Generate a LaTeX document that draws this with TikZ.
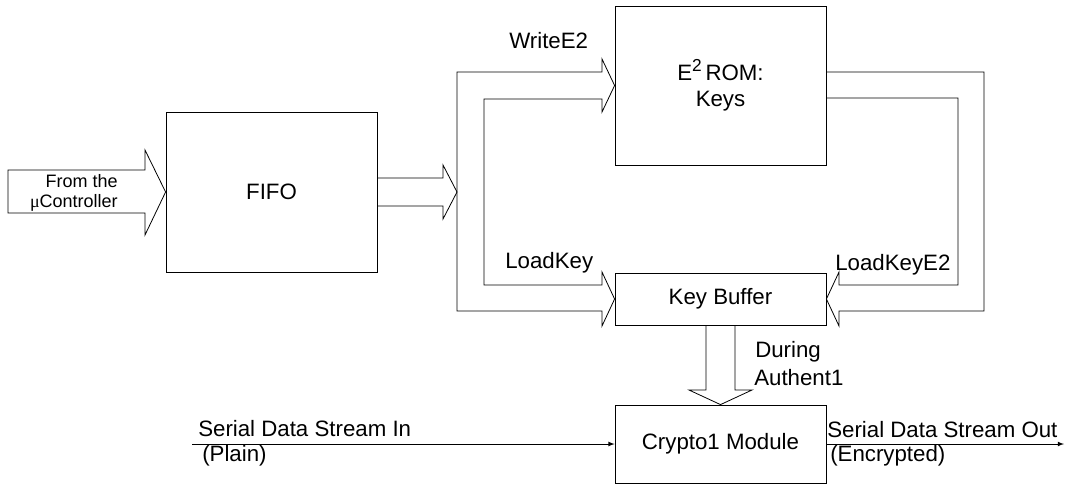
\documentclass[tikz,border=0pt]{standalone}
\usepackage{fontspec}
\setmainfont{Liberation Sans}
\newfontfamily\symbfont{Liberation Serif}
\usetikzlibrary{arrows}

\begin{document}
\begin{tikzpicture}[x=0.75pt, y=-0.75pt, font=\fontsize{16.7}{19.5}\selectfont]
	\tikzset{block/.style={shape = rectangle, draw, line width = 0.6pt, inner sep = 0pt}}
	\tikzset{lbl/.style={inner sep = 0pt, anchor = base west}}
	\tikzset{bus/.style={draw, line width = 0.6pt, line join = miter}}
	\useasboundingbox (0,0) rectangle (1066,486);
	%blocks
	\node[block, minimum width = 158.25pt, minimum height = 120pt] (fifo) at (271.5,192) {FIFO};
	\node[block, minimum width = 158.25pt, minimum height = 119.25pt, align = center] (eerom) at (720.5,85.5)
		{E\raisebox{0.42em}{\fontsize{13}{13}\selectfont 2}\,ROM:\\Keys};
	\node[block, minimum width = 158.25pt, minimum height = 39pt] (keybuf) at (720.5,299) {Key Buffer};
	\node[block, minimum width = 158.25pt, minimum height = 58.5pt] (crypto) at (720.5,444) {Crypto1 Module};
	%fat arrows
	\path[bus] (8,170) -- (145,170) -- (145,150) -- (fifo.west) -- (145,235) -- (145,213) -- (8,213) -- cycle;
	\path[bus] (377,178) -- (443,178) -- (443,165) -- (457,192) -- (443,219) -- (443,206) -- (377,206);
	\path[bus] (602,72) -- (602,59) -- (eerom.west) -- (602,112) -- (602,99) -- (484,99) -- (484,285)
		-- (602,285) -- (602,272) -- (keybuf.west) -- (602,326) -- (602,311) -- (457,311) -- (457,72) -- cycle;
	\path[bus] (826,72) -- (984,72) -- (984,311) -- (839,311) -- (839,326) -- (keybuf.east)
		-- (839,272) -- (839,285) -- (958,285) -- (958,98) -- (826,98);
	\path[bus] (706,325) -- (706,390) -- (689,390) -- (crypto.north) -- (752,390) -- (735,390) -- (735,325);
	%serial lines
	\coordinate (datain) at (192,444);
	\coordinate (dataout) at (1064,444);
	\draw[-latex, line width = 0.6pt] (datain) -- (crypto.west);
	\draw[-latex, line width = 0.6pt] (crypto.east) -- (dataout);
	%labels
	\node[inner sep = 0pt, anchor = east, align = right, font = \fontsize{13.5}{15}\selectfont] (micro) at (118,193)
		{From the\\{\symbfont μ}Controller};
	\node[lbl] (writee) at (509,48) {WriteE2};
	\node[lbl] (loadkey) at (505,268) {LoadKey};
	\node[lbl] (loadkeye) at (835,270) {LoadKeyE2};
	\node[lbl] (during) at (755,357) {During};
	\node[lbl] (authent) at (754,385) {Authent1};
	\node[lbl] (serin) at (198,436) {Serial Data Stream In};
	\node[lbl] (plain) at (202,461) {(Plain)};
	\node[lbl] (serout) at (827,437) {Serial Data Stream Out};
	\node[lbl] (encr) at (830,461) {(Encrypted)};
\end{tikzpicture}
\end{document}
